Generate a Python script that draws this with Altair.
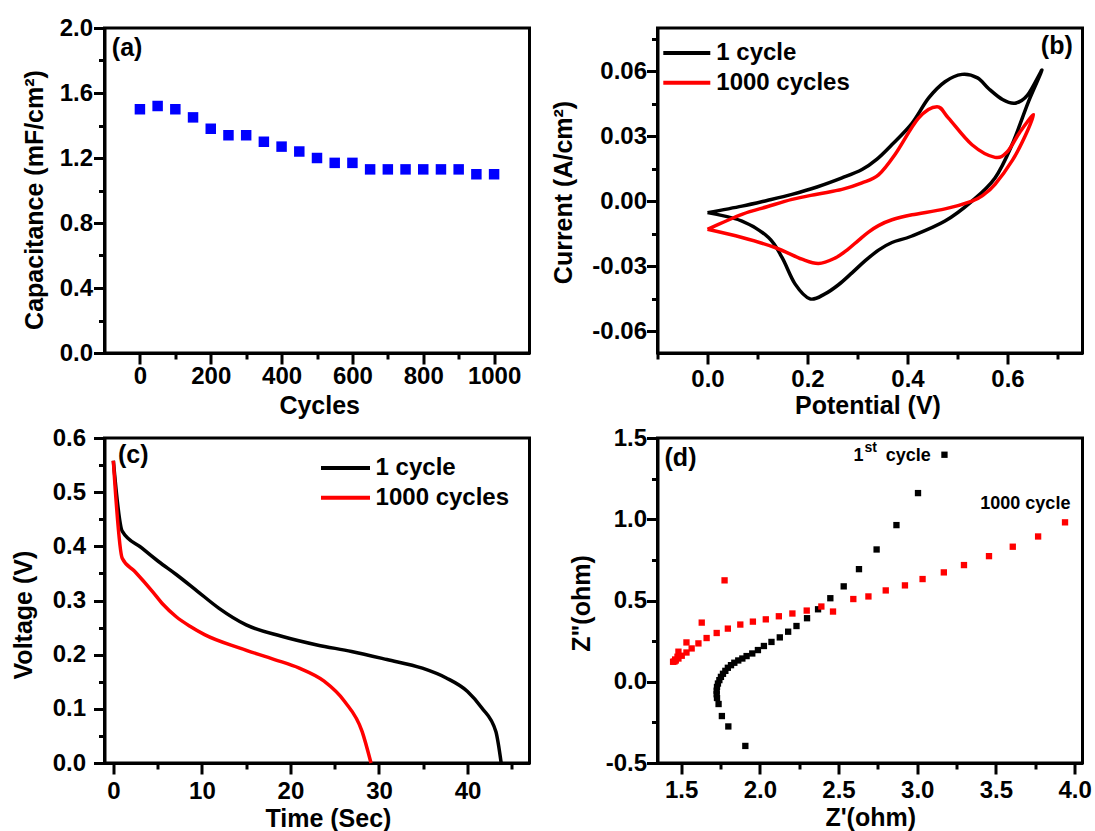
import altair as alt
import pandas as pd

FONT = "Liberation Sans"

# ---------------- data ----------------
# (a) capacitance retention
cycles = [0, 50, 100, 150, 200, 250, 300, 350, 400, 450, 500,
          550, 600, 650, 700, 750, 800, 850, 900, 950, 1000]
capacitance = [1.50, 1.52, 1.50, 1.45, 1.38, 1.34, 1.34, 1.30, 1.27, 1.24, 1.20,
               1.17, 1.17, 1.13, 1.13, 1.13, 1.13, 1.13, 1.13, 1.10, 1.10]

series_names = ["1 cycle", "1000 cycles"]
series_colors = ["#000000", "#ff0000"]

# (b) cyclic voltammetry
cv_1_potential = [0.000, 0.069, 0.119, 0.169, 0.219, 0.269, 0.309, 0.339, 0.369, 0.409, 0.442, 0.475, 0.509,
                  0.540, 0.562, 0.590, 0.615, 0.640, 0.669,
                  0.642, 0.609, 0.575, 0.529, 0.475, 0.409, 0.369, 0.342, 0.315, 0.289, 0.262, 0.235,
                  0.205, 0.175, 0.149, 0.122, 0.069, 0.000]
cv_1_current = [-0.0052, -0.0022, 0.0004, 0.0032, 0.0066, 0.0108, 0.0147, 0.0195, 0.0262, 0.0360, 0.0476, 0.0552, 0.0586,
                0.0570, 0.0521, 0.0470, 0.0453, 0.0490, 0.0606,
                0.0460, 0.0261, 0.0108, 0.0001, -0.0091, -0.0160, -0.0190, -0.0225, -0.0275, -0.0330, -0.0385, -0.0427,
                -0.0450, -0.0381, -0.0259, -0.0167, -0.0091, -0.0052]
cv_1000_potential = [0.000, 0.069, 0.119, 0.169, 0.219, 0.269, 0.309, 0.342, 0.375, 0.422, 0.459, 0.482,
                     0.529, 0.575, 0.600, 0.625, 0.652,
                     0.635, 0.610, 0.575, 0.552, 0.529, 0.475, 0.409, 0.369, 0.342, 0.322, 0.302,
                     0.279, 0.255, 0.222, 0.189, 0.135, 0.069, 0.000]
cv_1000_current = [-0.0129, -0.0060, -0.0025, 0.0009, 0.0033, 0.0055, 0.0085, 0.0122, 0.0216, 0.0384, 0.0437, 0.0384,
                   0.0261, 0.0203, 0.0230, 0.0320, 0.0400,
                   0.0300, 0.0190, 0.0078, 0.0030, 0.0001, -0.0035, -0.0062, -0.0085, -0.0112, -0.0142, -0.0180,
                   -0.0225, -0.0262, -0.0287, -0.0267, -0.0213, -0.0167, -0.0129]

# (c) galvanostatic discharge
gcd_1_time = [0, 1.0, 3.2, 5.1, 7.1, 9.5, 11.9, 15.0, 19.0, 23.0, 26.9, 30.9, 34.9, 37.6, 40.0, 41.6, 43.2, 43.8]
gcd_1_voltage = [0.558, 0.428, 0.397, 0.372, 0.348, 0.317, 0.286, 0.255, 0.234, 0.218, 0.206, 0.191,
                 0.175, 0.157, 0.132, 0.102, 0.058, 0.0]
gcd_1000_time = [0, 1.0, 2.4, 4.4, 5.6, 7.1, 8.7, 10.3, 14.3, 18.2, 21.0, 23.8, 26.1, 28.1, 29.1]
gcd_1000_voltage = [0.558, 0.378, 0.354, 0.317, 0.293, 0.270, 0.252, 0.237, 0.212, 0.191, 0.175, 0.151,
                    0.114, 0.058, 0.0]

# (d) impedance (Nyquist)
eis_1_zre = [1.908, 1.800, 1.759, 1.738, 1.728, 1.726, 1.726, 1.728, 1.734, 1.743,
             1.753, 1.766, 1.781, 1.797, 1.817, 1.838, 1.863, 1.889, 1.916, 1.952,
             1.988, 2.026, 2.074, 2.127, 2.180, 2.233, 2.300, 2.370, 2.448, 2.533,
             2.630, 2.742, 2.868, 3.005, 3.173]
eis_1_zim = [-0.395, -0.275, -0.211, -0.137, -0.100, -0.077, -0.055, -0.032, -0.011, 0.010,
             0.030, 0.049, 0.067, 0.086, 0.102, 0.117, 0.131, 0.143, 0.158, 0.174,
             0.195, 0.220, 0.245, 0.273, 0.308, 0.343, 0.391, 0.446, 0.514, 0.587,
             0.693, 0.814, 0.964, 1.161, 1.397]
eis_1000_zre = [1.449, 1.458, 1.462, 1.466, 1.477, 1.483, 1.483, 1.504, 1.534, 1.534,
                1.567, 1.610, 1.631, 1.662, 1.726, 1.776, 1.797, 1.876, 1.956, 2.038,
                2.121, 2.207, 2.298, 2.391, 2.465, 2.594, 2.690, 2.800, 2.922, 3.034,
                3.169, 3.297, 3.456, 3.607, 3.768, 3.939]
eis_1000_zim = [0.123, 0.125, 0.137, 0.131, 0.154, 0.143, 0.185, 0.160, 0.180, 0.242,
                0.205, 0.236, 0.364, 0.269, 0.300, 0.624, 0.327, 0.352, 0.370, 0.384,
                0.403, 0.420, 0.438, 0.463, 0.432, 0.509, 0.525, 0.562, 0.593, 0.632,
                0.673, 0.718, 0.773, 0.831, 0.894, 0.981]

W, H = 425, 325


def ticks(lo, hi, step):
    n = int(round((hi - lo) / step))
    return [round(lo + i * step, 6) for i in range(n + 1)]


def make_axis(title, orient, major, minor, step, fmt, label_pad, title_x, title_y,
              tick=11, minor_tick=6):
    test = f"abs(datum.value / {step} - round(datum.value / {step})) < 0.001"
    label_expr = (f"({test}) ? ((datum.value < -0.000001 ? '-' : '') + "
                  f"format(abs(datum.value), '{fmt}')) : ''")
    kw = dict(
        title=title, orient=orient, values=sorted(major + minor),
        labelExpr=label_expr, labelFont=FONT, labelFontSize=24, labelFontWeight="bold",
        labelColor="black", labelPadding=label_pad, labelOverlap=False, labelFlush=False,
        tickSize={"condition": {"test": test, "value": tick}, "value": minor_tick},
        tickWidth=3, tickColor="black", domainWidth=3, domainColor="black", grid=False,
        titleFont=FONT, titleFontSize=25, titleFontWeight="bold", titleColor="black",
        titleX=title_x, titleY=title_y, titleAlign="center",
    )
    if orient == "left":
        kw.update(titleAngle=270, titleBaseline="middle")
    else:
        kw.update(titleAngle=0, titleBaseline="top")
    return alt.Axis(**kw)


def text_layer(txt, x, y, size, align="left", baseline="middle"):
    return alt.Chart(pd.DataFrame({"t": [txt]})).mark_text(
        font=FONT, fontSize=size, fontWeight="bold", color="black",
        align=align, baseline=baseline,
    ).encode(text="t:N", x=alt.value(x), y=alt.value(y))


def legend_layers(x0, y0, length, gap, row):
    layers = []
    for i, (name, color) in enumerate(zip(series_names, series_colors)):
        y = y0 + i * row
        layers.append(
            alt.Chart(pd.DataFrame({"k": [name]})).mark_rule(color=color, strokeWidth=4).encode(
                x=alt.value(x0), x2=alt.value(x0 + length), y=alt.value(y))
        )
        layers.append(text_layer(name, x0 + length + gap, y, 24))
    return layers


color_enc = alt.Color("Series:N", scale=alt.Scale(domain=series_names, range=series_colors),
                      legend=None)

# ---------------- panel (a) ----------------
df_a = pd.DataFrame({"Cycles": cycles, "Capacitance": capacitance})
pa_pts = alt.Chart(df_a).mark_square(size=110, color="#0000ff", opacity=1).encode(
    x=alt.X("Cycles:Q", scale=alt.Scale(domain=[-100, 1100], nice=False, zero=False),
            axis=make_axis("Cycles", "bottom", ticks(0, 1000, 200), ticks(100, 900, 200),
                           200, "d", 0, 214.7, 40)),
    y=alt.Y("Capacitance:Q", scale=alt.Scale(domain=[0, 2.0], nice=False, zero=False),
            axis=make_axis("Capacitance (mF/cm²)", "left", ticks(0, 2.0, 0.4),
                           ticks(0.2, 1.8, 0.4), 0.4, ".1f", 1, -70.5, 171.5)),
)
panel_a = alt.layer(pa_pts, text_layer("(a)", 22.6, 20, 25, align="center")).properties(
    width=W, height=H)

# ---------------- panel (b) ----------------
df_b = pd.concat([
    pd.DataFrame({"Potential": cv_1_potential, "Current": cv_1_current,
                  "Series": series_names[0], "Index": list(range(len(cv_1_potential)))}),
    pd.DataFrame({"Potential": cv_1000_potential, "Current": cv_1000_current,
                  "Series": series_names[1], "Index": list(range(len(cv_1000_potential)))}),
], ignore_index=True)
pb_lines = alt.Chart(df_b).mark_line(strokeWidth=3.5, interpolate="cardinal").encode(
    x=alt.X("Potential:Q", scale=alt.Scale(domain=[-0.1, 0.75], nice=False, zero=False),
            axis=make_axis("Potential (V)", "bottom", ticks(0, 0.6, 0.2),
                           [-0.1, 0.1, 0.3, 0.5, 0.7], 0.2, ".1f", 3, 210, 40)),
    y=alt.Y("Current:Q", scale=alt.Scale(domain=[-0.07, 0.08], nice=False, zero=False),
            axis=make_axis("Current (A/cm²)", "left", ticks(-0.06, 0.06, 0.03),
                           [-0.045, -0.015, 0.015, 0.045, 0.075], 0.03, ".2f", 0, -94.2, 164)),
    color=color_enc,
    order="Index:Q",
)
panel_b = alt.layer(pb_lines, *legend_layers(5.8, 25, 47, 6, 29.7),
                    text_layer("(b)", 399.3, 17.7, 25, align="center")).properties(
    width=W, height=H)

# ---------------- panel (c) ----------------
df_c = pd.concat([
    pd.DataFrame({"Time": gcd_1_time, "Voltage": gcd_1_voltage,
                  "Series": series_names[0], "Index": list(range(len(gcd_1_time)))}),
    pd.DataFrame({"Time": gcd_1000_time, "Voltage": gcd_1000_voltage,
                  "Series": series_names[1], "Index": list(range(len(gcd_1000_time)))}),
], ignore_index=True)
pc_lines = alt.Chart(df_c).mark_line(strokeWidth=3.5, interpolate="monotone").encode(
    x=alt.X("Time:Q", scale=alt.Scale(domain=[-1, 47], nice=False, zero=False),
            axis=make_axis("Time (Sec)", "bottom", ticks(0, 40, 10), ticks(5, 45, 10),
                           10, "d", 5, 223.4, 43)),
    y=alt.Y("Voltage:Q", scale=alt.Scale(domain=[0, 0.6], nice=False, zero=False),
            axis=make_axis("Voltage (V)", "left", ticks(0, 0.6, 0.1), ticks(0.05, 0.55, 0.1),
                           0.1, ".1f", 8, -81.3, 176.6)),
    color=color_enc,
    order="Index:Q",
)
panel_c = alt.layer(pc_lines, *legend_layers(216.5, 29.9, 49, 5.6, 29.8),
                    text_layer("(c)", 28.7, 16.6, 25, align="center")).properties(
    width=W, height=H)

# ---------------- panel (d) ----------------
df_d = pd.concat([
    pd.DataFrame({"Zre": eis_1_zre, "Zim": eis_1_zim, "Series": series_names[0]}),
    pd.DataFrame({"Zre": eis_1000_zre, "Zim": eis_1000_zim, "Series": series_names[1]}),
], ignore_index=True)
pd_pts = alt.Chart(df_d).mark_square(size=40, opacity=1).encode(
    x=alt.X("Zre:Q", scale=alt.Scale(domain=[1.35, 4.05], nice=False, zero=False),
            axis=make_axis("Z'(ohm)", "bottom", ticks(1.5, 4.0, 0.5), ticks(1.75, 3.75, 0.5),
                           0.5, ".1f", 4, 212.7, 42)),
    y=alt.Y("Zim:Q", scale=alt.Scale(domain=[-0.5, 1.5], nice=False, zero=False),
            axis=make_axis('Z"(ohm)', "left", ticks(-0.5, 1.5, 0.5), ticks(-0.25, 1.25, 0.5),
                           0.5, ".1f", 0, -76.2, 165)),
    color=color_enc,
)
panel_d = alt.layer(
    pd_pts,
    text_layer("(d)", 23, 20, 25, align="center"),
    text_layer("1", 196, 22.7, 18, baseline="alphabetic"),
    text_layer("st", 207, 14.4, 14, baseline="alphabetic"),
    text_layer("cycle", 228.3, 22.7, 18, baseline="alphabetic"),
    text_layer("1000 cycle", 322.8, 70.7, 18, baseline="alphabetic"),
).properties(width=W, height=H)

chart = alt.concat(
    panel_a, panel_b, panel_c, panel_d, columns=2,
    spacing={"row": 85, "column": 128}, bounds="flush",
).properties(
    padding={"left": 9.5, "top": 14, "right": 0, "bottom": 0},
    background="white",
).configure_view(stroke="black", strokeWidth=3)

chart.save("out.html", embed_options={"renderer": "svg", "actions": False})
